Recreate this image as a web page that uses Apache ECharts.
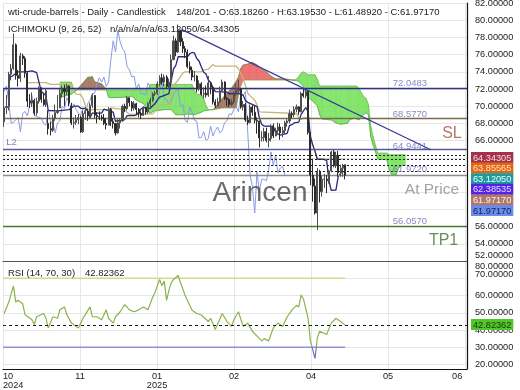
<!DOCTYPE html>
<html>
<head>
<meta charset="utf-8">
<title>wti-crude-barrels - Daily - Candlestick</title>
<script src="https://cdn.jsdelivr.net/npm/echarts@6/dist/echarts.min.js"></script>
<style>
html,body{margin:0;padding:0;background:#ffffff;}
#chart{width:520px;height:390px;}
</style>
</head>
<body>
<div id="chart"></div>
<script>
// ---------------- DATA ----------------
const opens = [
68.2,69.83,69.97,73.71,74.38,77.14,73.57,73.24,75.85,75.56,
73.83,70.58,70.39,70.67,69.22,70.56,72.09,70.77,70.19,68.0,
67.38,67.21,68.61,69.26,69.8,71.47,71.99,71.69,72.36,70.0,
68.04,68.12,68.43,68.70,67.02,69.16,69.39,68.87,70.10,71.24,
68.94,68.77,68.72,68.60,68.00,67.80,69.64,68.24,68.00,66.90,
68.07,68.29,69.99,69.72,70.99,70.41,69.78,70.28,69.61,69.16,
68.94,69.80,69.32,70.30,70.69,71.42,71.50,72.60,73.30,72.80,
73.40,72.30,72.80,75.40,77.60,76.30,78.80,77.50,76.70,76.30,
74.60,74.20,73.40,73.50,72.00,72.60,71.40,71.50,71.30,72.70,
72.20,70.50,70.10,70.50,71.80,72.80,70.90,70.80,70.20,70.50,
71.40,71.80,72.00,69.90,70.20,68.40,68.10,69.90,69.30,68.37,
68.26,66.31,66.36,67.04,66.03,66.25,67.68,66.55,67.18,67.58,
66.90,67.16,68.07,68.28,69.11,69.00,69.65,69.92,69.36,71.48,
71.20,71.71,66.95,61.99,60.70,57.58,62.35,60.07,61.50,61.53,
61.33,62.47,64.68,63.08,64.31,62.27,62.79,63.1826];
const highs = [
72.0,71.3,74.0,74.9,78.46,77.3,74.2,76.2,76.1,75.8,
74.0,71.4,71.6,70.9,71.0,72.3,72.2,71.5,72.1,69.5,
68.2,69.0,70.2,71.3,72.0,72.4,72.5,72.6,72.4,70.4,
68.7,69.0,69.1,68.9,69.5,69.9,69.7,70.4,71.5,71.3,
69.3,69.4,69.0,69.1,68.6,69.9,69.8,68.6,68.0,68.5,
68.6,70.2,70.3,71.2,71.0,70.6,70.6,70.4,69.8,69.4,
70.0,69.9,70.5,71.0,71.6,71.8,72.9,73.6,73.8,73.7,
73.6,73.2,76.0,78.2,77.9,79.5,78.9,77.9,77.0,76.6,
75.2,74.6,74.1,73.6,73.0,72.8,72.2,72.4,73.5,72.8,
72.3,70.8,71.0,72.3,73.1,72.9,71.1,70.9,70.8,71.7,
72.6,73.09,72.1,70.6,70.4,68.9,70.2,70.1,70.1,68.7,
68.3,67.1,67.5,67.5,66.9,67.9,68.0,67.5,68.1,68.0,
67.6,68.3,68.5,69.6,69.4,70.0,70.2,70.0,71.7,72.1,
72.0,71.8,67.0,63.9,61.6,62.8,62.6,61.9,62.1,62.0,
62.6,64.8,64.9,64.7,64.8,63.2,63.3,63.1953];
const lows = [
67.6,69.1,69.5,73.0,74.2,73.1,72.3,72.8,74.8,73.3,
69.9,69.8,69.9,68.9,68.9,70.3,70.4,70.0,69.9,66.7,
66.6,67.0,68.3,69.1,69.8,71.0,70.0,71.3,70.0,67.8,
67.4,67.8,67.9,66.9,66.9,68.4,68.3,68.5,69.8,68.6,
68.0,68.4,68.3,67.8,67.3,67.8,67.7,67.4,66.6,66.8,
67.4,68.2,69.3,69.5,70.0,69.4,69.5,69.0,68.7,68.5,
68.9,69.0,69.1,69.9,70.5,71.2,71.3,72.3,72.5,72.3,
72.0,72.0,72.7,75.4,75.8,76.2,77.0,76.2,75.6,74.4,
73.8,73.0,72.9,71.6,71.8,71.2,70.9,71.0,71.1,71.4,
70.2,69.8,69.9,70.4,71.7,70.7,70.0,69.9,70.0,70.3,
71.2,71.4,69.7,69.5,68.2,67.8,68.0,68.9,68.0,66.8,
65.2,65.9,65.9,65.8,65.2,65.9,66.3,66.5,66.9,66.1,
66.4,66.8,67.6,68.0,68.6,68.7,69.3,69.0,69.3,71.0,
70.9,66.7,60.8,58.9,57.4,55.6,58.8,59.5,60.5,59.9,
61.0,62.3,62.9,62.8,61.8,61.8,61.8,61.4892];
const closes = [
69.83,69.97,73.71,74.38,77.14,73.57,73.24,75.85,75.56,73.83,
70.58,70.39,70.67,69.22,70.56,72.09,70.77,70.19,71.78,67.38,
67.21,68.61,69.26,69.49,71.47,71.99,71.69,72.36,70.38,68.04,
68.12,68.43,68.70,67.02,69.16,69.39,68.87,70.10,71.24,68.94,
68.77,68.72,68.60,68.00,67.80,69.64,68.24,68.00,66.90,68.07,
68.29,69.99,69.72,70.99,70.41,69.78,70.28,69.61,69.16,68.94,
69.80,69.32,70.30,70.69,71.42,71.50,72.60,73.30,72.80,73.40,
72.30,72.80,75.40,77.60,76.30,78.80,77.50,76.70,76.30,74.60,
74.20,73.40,73.50,72.00,72.60,71.40,71.50,71.30,72.70,72.20,
70.50,70.10,70.50,71.80,72.80,70.90,70.80,70.20,70.50,71.40,
71.80,72.00,69.90,70.20,68.40,68.10,69.90,69.30,68.37,68.26,
66.31,66.36,67.04,66.03,66.25,67.68,66.55,67.18,67.58,66.90,
67.16,68.07,68.28,69.11,69.00,69.65,69.92,69.36,71.48,71.20,
71.71,66.95,61.99,60.70,57.58,62.35,60.07,61.50,61.53,61.33,
62.47,64.68,63.08,64.31,62.27,62.79,63.02,61.9717];

// Ichimoku lines (bar index, value)
const tenkanBars = [3,6,9,12,14,16,17,18,19,23, 26,28,30,32,33,35,36,37,38,42, 43,46,47,48,52,53,56,57,58,59,
  60,63,64,65,66,67,68,71,72,73, 74,75,79,80,81,82,83,84,85,86, 87,88,89,90,91,96,97,101,102,103,
  104,105,109,110,111,112,116,117,118,119, 122,123,124,125,127,128,129,130,131,132, 133,134,135,137,138,139,140,141,142,143,
  144,145,146,147];
const tenkanVals = [73.4,74.0,74.0,74.1,73.9,71.7,71.5,71.2,69.5,69.45, 69.55,69.6,70.0,70.0,69.75,69.75,69.45,68.65,69.2,69.2,
  69.65,69.4,69.3,68.25,68.45,68.9,68.9,69.0,69.3,69.7, 69.85,69.75,70.05,70.3,70.7,71.05,71.15,71.45,72.95,74.35,
  74.75,75.75,75.75,76.1,76.25,76.2,75.55,75.25,74.55,73.95, 73.75,73.05,72.75,72.15,71.7,71.65,71.45,71.5,71.4,71.3,
  70.65,70.45,69.95,68.65,67.9,67.7,67.65,66.95,66.75,66.65, 66.85,67.75,67.85,68.05,68.15,69.05,69.45,69.85,69.4,66.45,
  65.5,64.75,63.85,63.85,63.8,63.7,61.3,60.2,60.25,60.25, 61.85,62.2,62.4,62.385];
const kijunBars = [10,18,20,29,30,31,33,34,35,36, 45,46,52,53,54,64,66,67,68,71, 72,73,75,76,77,78,85,86,88,90,
  91,100,101,102,103,104,105,106,107,108, 109,110,126,127,128,129,131,132,133,134, 135,147];
const kijunVals = [72.73,72.73,72.53,72.53,71.8,71.4,71.35,70.9,70.05,69.6, 69.6,69.8,69.6,69.3,69.05,69.1,69.75,70.1,70.2,70.2,
  71.3,72.4,73.05,73.45,73.85,74.0,74.0,74.2,74.3,74.85, 74.65,74.65,74.35,73.8,73.25,72.4,71.5,71.2,70.95,70.7,
  70.15,69.35,69.15,68.65,68.45,68.65,68.65,66.45,65.5,64.75, 63.85,63.856];
const cloudBars = [24,29,30,31,34,36,38,39,42,44, 45,46,52,55,56,57,60,61,62,63, 64,69,72,74,78,79,81,82,83,85,
  86,87,88,90,92,93,94,95,97,98, 99,100,101,102,103,105,107,109,111,113, 115,117,122,125,126,127,128,129,130,131,
  133,134,135,136,137,141,143,145,148,149, 151,152,153,154,155,156,157,158,159,160, 161,164,165,166,167,168,169,170,171,172, 173];
const cloudA = [71.0,71.4,71.6,71.8,72.73,73.35,73.43,72.84,72.6,71.97, 71.04,70.99,71.04,71.17,70.9,70.7,70.3,69.9,69.5,69.1,
  69.4,69.6,69.6,69.0,69.0,69.1,69.05,69.0,69.1,69.3, 69.45,69.5,69.55,69.6,70.2,70.6,70.9,71.2,71.8,72.1,
  72.5,72.9,73.4,74.4,74.8,74.9,75.1,74.8,74.3,74.0, 73.5,73.2,73.15,73.0,72.95,72.9,72.6,72.3,71.5,71.0,
  70.6,70.3,70.05,69.0,68.5,68.4,68.05,67.9,68.0,68.45, 68.6,68.5,68.4,68.75,69.05,69.25,69.0,66.45,65.5,64.75,
  63.85,63.8,63.75,62.58,62.03,62.05,62.05,62.85,63.03,63.12, 63.1205];
const cloudB = [72.8,72.8,71.9,71.9,71.9,71.9,71.9,71.9,71.9,71.9, 71.9,71.9,71.9,71.9,71.9,71.9,71.9,71.9,71.9,72.53,
  72.53,72.53,72.53,72.53,72.53,72.53,72.53,71.8,71.4,71.35, 70.9,70.05,69.6,69.6,69.7,69.75,69.8,69.8,69.8,69.8,
  69.8,69.8,71.3,72.4,73.05,73.05,73.05,73.05,73.05,73.05, 73.05,73.05,73.05,73.05,73.15,73.45,73.85,74.0,73.85,73.65,
  73.65,73.65,73.15,72.35,72.35,72.35,72.35,72.35,72.35,72.35, 72.35,72.35,72.05,71.55,71.1,70.9,70.2,67.7,66.5,65.5,
  64.55,64.55,64.55,64.35,64.35,64.35,64.35,64.35,64.35,64.345, 64.34305];

// RSI (bar index, value)
const rsiBars = [0,2,4,5,6,8,9,12,13,14, 17,18,19,21,23,24,26,27,29,31, 32,34,35,37,38,40,42,44,45,47,
  48,50,52,54,56,58,60,62,64,65, 67,68,69,70,71,72,73,75,76,78, 81,83,85,88,89,91,94,96,98,99,
  101,103,105,107,109,111,112,114,116,118, 120,122,124,126,127,128,129,131,132,134, 135,136,139,141,143,145,147];
const rsiVals = [49.6,56.2,65.6,56.2,57.3,55.2,48.9,46.0,43.2,47.7, 49.6,46.8,41.2,47.7,46.8,51.7,53.4,48.9,44.0,42.1,
  41.2,46.8,48.9,53.4,47.7,47.7,46.0,51.7,46.8,44.0, 47.7,50.6,54.7,51.7,50.6,51.7,53.4,51.7,59.0,61.8,
  69.3,65.6,68.4,57.2,62.8,67.5,69.3,71.6,67.5,60.0, 51.5,49.6,48.7,44.9,46.8,40.3,49.6,44.9,42.1,45.9,
  50.6,42.1,44.0,39.3,36.5,33.7,35.0,33.7,41.2,44.0, 42.1,47.7,51.5,54.3,53.4,60.3,58.0,46.8,33.7,23.5,
  35.5,39.3,37.4,44.0,46.8,44.9,42.82];
const rsiLevels = [70, 30];
const rsiLast = 42.82362;

// levels and orders
const levelPrices = [72.0483, 68.5770, 64.9441, 56.0570];
const orderPrices = [64.34305, 63.85565, 63.12050, 62.38535, 61.97170];
const lastPrice = 61.97170;
const trendBars = [77.1, 184.4];
const trendVals = [78.9, 64.94];

const xTickLabels = ['10\n2024', '11', '01\n2025', '02', '04', '05', '06'];
const tagTexts = ['64.34305', '63.85565', '63.12050', '62.38535', '61.97170', '61.97170'];

// ---------------- CHART ----------------
const FONT = '"Liberation Sans", Arial, Helvetica, sans-serif';
const X_INT = 33.2;
const xc = b => b + 0.5;

const chart = echarts.init(document.getElementById('chart'), null, {renderer: 'canvas', width: 520, height: 390});

function xLabel(v) {
  const k = Math.round(v / X_INT);
  if (Math.abs(v - k * X_INT) > 0.05 || k >= xTickLabels.length) return '';
  if (k === xTickLabels.length - 1) return '{r|' + xTickLabels[k] + '}';
  return xTickLabels[k];
}

const levelStyles = [
  {color: '#30308a', width: 1.4},
  {color: '#7b6b4b', width: 1.4},
  {color: '#57579e', width: 1.4},
  {color: '#4a7a2c', width: 1.4}
];
const markLineData = [];
levelPrices.forEach((p, i) => markLineData.push({yAxis: p, lineStyle: Object.assign({type: 'solid'}, levelStyles[i])}));
orderPrices.forEach(p => markLineData.push({yAxis: p, lineStyle: {color: '#1e1e1e', width: 1, type: [2, 2]}}));
markLineData.push({yAxis: lastPrice, lineStyle: {color: '#8d8d8d', width: 1.4, type: 'solid'}});

// annotation label placement (axis coordinates)
const annotations = [
  {x: 175.4, y: 72.65, text: '72.0483', color: '#6b6bb6', size: 9.5},
  {x: 175.4, y: 69.07, text: '68.5770', color: '#6b6bb6', size: 9.5},
  {x: 175.4, y: 65.35, text: '64.9441', color: '#6b6bb6', size: 9.5},
  {x: 175.4, y: 62.62, text: '61.9720', color: '#6b6bb6', size: 9.5},
  {x: 175.4, y: 56.57, text: '56.0570', color: '#6b6bb6', size: 9.5},
  {x: 3.7, y: 65.76, text: 'L2', color: '#7a5aa6', size: 9.5},
  {x: 193.5, y: 66.86, text: 'SL', color: '#a5523f', size: 16},
  {x: 184.9, y: 60.3, text: 'At Price', color: '#8c8c8c', size: 15.5},
  {x: 189.9, y: 54.36, text: 'TP1', color: '#44732a', size: 16}
];

const tagStyles = [
  {bg: '#a5304b', fg: '#f7dbe2'},
  {bg: '#e2660f', fg: '#fde6d0'},
  {bg: '#1d9c9c', fg: '#ebffff'},
  {bg: '#5523e6', fg: '#e6deff'},
  {bg: '#b0786a', fg: '#fcefe9'},
  {bg: '#6b8ce6', fg: '#0f1f5f'}
];
const tagTops = [152, 162.6, 173.2, 183.8, 194.4, 205];

function txt(x, y, text, style) {
  return {type: 'text', x: x, y: y, z: 50, silent: true,
    style: Object.assign({text: text, fill: '#222', fontSize: 9.5, fontFamily: FONT, verticalAlign: 'middle', align: 'left'}, style || {})};
}
const graphics = [
  txt(8, 12.5, 'wti-crude-barrels - Daily - Candlestick'),
  txt(176, 12.5, '148/201 - O:63.18260 - H:63.19530 - L:61.48920 - C:61.97170'),
  txt(8, 29.5, 'ICHIMOKU (9, 26, 52)'),
  txt(110, 29.5, 'n/a/n/a/n/a/63.12050/64.34305'),
  txt(8, 273, 'RSI (14, 70, 30)'),
  txt(85, 273, '42.82362'),
  txt(475, 266, '80.00000', {fontSize: 9.2}),
  txt(475, 274, '70.00000', {fontSize: 9.2}),
  {type: 'text', x: 260, y: 193, z: 40, silent: true,
   style: {text: 'Arincen', fill: '#5a5a5a', fontSize: 28, fontFamily: FONT, align: 'center', verticalAlign: 'middle', opacity: 0.9}}
];
tagTexts.forEach((t, i) => {
  graphics.push({type: 'text', x: 471, y: tagTops[i], z: 100, silent: true,
    style: {text: t, fill: tagStyles[i].fg, backgroundColor: tagStyles[i].bg, padding: [1, 2, 0, 2],
      fontSize: 9.2, lineHeight: 10, fontFamily: FONT, verticalAlign: 'top', align: 'left'}});
});
graphics.push({type: 'text', x: 471, y: 319, z: 100, silent: true,
  style: {text: '42.82362', fill: '#123a00', backgroundColor: '#52c52c', padding: [1, 2, 0, 2],
    fontSize: 9.2, lineHeight: 10, fontFamily: FONT, verticalAlign: 'top', align: 'left'}});

const axisLabelBase = {fontSize: 9.2, color: '#222', fontFamily: FONT};
const splitLineStyle = {show: true, lineStyle: {color: '#e6e6e6', width: 1}};
const richBase = {fontSize: 9.2, color: '#222', fontFamily: FONT};

const option = {
  animation: false,
  backgroundColor: '#ffffff',
  textStyle: {fontFamily: FONT},
  grid: [
    {left: 3, right: 53, top: 3, height: 258, containLabel: false, outerBoundsMode: 'none'},
    {left: 3, right: 53, top: 261, height: 108, containLabel: false, outerBoundsMode: 'none'}
  ],
  xAxis: [
    {gridIndex: 0, type: 'value', min: 0, max: 200, interval: X_INT,
     axisLine: {show: true, onZero: false, lineStyle: {color: '#555', width: 1}},
     axisTick: {show: false}, axisLabel: {show: false}, splitLine: splitLineStyle},
    {gridIndex: 1, type: 'value', min: 0, max: 200, interval: X_INT,
     axisLine: {show: true, onZero: false, lineStyle: {color: '#111', width: 1.2}},
     axisTick: {show: false}, splitLine: splitLineStyle,
     axisLabel: Object.assign({}, axisLabelBase, {show: true, margin: 3, lineHeight: 9, hideOverlap: false,
       showMinLabel: true, showMaxLabel: true, alignMinLabel: 'left', formatter: xLabel,
       rich: {r: Object.assign({padding: [0, 16, 0, 0]}, richBase)}})}
  ],
  yAxis: [
    {gridIndex: 0, type: 'value', position: 'right', min: 52, max: 82, interval: 2,
     axisLine: {show: true, onZero: false, lineStyle: {color: '#111', width: 1.2}},
     axisTick: {show: false}, splitLine: splitLineStyle,
     axisLabel: Object.assign({}, axisLabelBase, {margin: 8,
       formatter: v => v === 52 ? '{u|' + v.toFixed(5) + '}' : v.toFixed(5),
       rich: {u: Object.assign({padding: [0, 0, 11, 0]}, richBase)}})},
    {gridIndex: 1, type: 'value', position: 'right', min: 17.4, max: 80,
     axisLine: {show: true, onZero: false, lineStyle: {color: '#111', width: 1.2}},
     axisTick: {show: false}, splitLine: splitLineStyle,
     axisLabel: Object.assign({}, axisLabelBase, {margin: 8,
       formatter: v => {
         if (Math.abs(v - Math.round(v / 10) * 10) > 1e-6 || v >= 70) return '';
         return v.toFixed(5);
       }})}
  ],
  visualMap: [{type: 'piecewise', show: false, seriesIndex: 11, dimension: 1,
    pieces: [{gte: 0, lt: 30, color: '#6b7bb6'}, {gte: 30, lte: 100, color: '#8db24c'}]}],
  graphic: graphics,
  series: [
    // 0 kumo fill
    {type: 'custom', name: 'kumo', xAxisIndex: 0, yAxisIndex: 0, z: 1, silent: true, clip: true,
     data: cloudBars.slice(0, -1).map((b, i) => [xc(b), cloudA[i], cloudB[i], xc(cloudBars[i + 1]), cloudA[i + 1], cloudB[i + 1]]),
     encode: {x: [0, 3], y: [1, 2, 4, 5]},
     renderItem: (params, api) => {
       const x0 = api.value(0), a0 = api.value(1), b0 = api.value(2);
       const x1 = api.value(3), a1 = api.value(4), b1 = api.value(5);
       const pts = [api.coord([x0, a0]), api.coord([x1, a1]), api.coord([x1, b1]), api.coord([x0, b0])];
       const aAbove = (a0 + a1) > (b0 + b1);
       let fill;
       if (!aAbove) fill = 'rgba(104,222,74,0.78)';
       else if (x0 >= 101.5) fill = 'rgba(236,96,96,0.88)';
       else fill = 'rgba(158,106,84,0.88)';
       return {type: 'polygon', shape: {points: pts}, style: {fill: fill, stroke: fill, lineWidth: 0.4}};
     }},
    // 1 senkou A
    {type: 'line', xAxisIndex: 0, yAxisIndex: 0, z: 2, silent: true, showSymbol: false,
     data: cloudBars.map((b, i) => [xc(b), cloudA[i]]), lineStyle: {color: '#3e9a3a', width: 0.8, opacity: 0.8}},
    // 2 senkou B
    {type: 'line', xAxisIndex: 0, yAxisIndex: 0, z: 2, silent: true, showSymbol: false,
     data: cloudBars.map((b, i) => [xc(b), cloudB[i]]), lineStyle: {color: '#7aa848', width: 0.8, opacity: 0.8}},
    // 3 chikou
    {type: 'line', xAxisIndex: 0, yAxisIndex: 0, z: 3, silent: true, showSymbol: false,
     data: closes.slice(26).map((c, i) => [xc(i), c]), lineStyle: {color: '#8a9be2', width: 1}},
    // 4 kijun
    {type: 'line', xAxisIndex: 0, yAxisIndex: 0, z: 3, silent: true, showSymbol: false,
     data: kijunBars.map((b, i) => [xc(b), kijunVals[i]]), lineStyle: {color: '#c6b67b', width: 1.3}},
    // 5 tenkan
    {type: 'line', xAxisIndex: 0, yAxisIndex: 0, z: 4, silent: true, showSymbol: false,
     data: tenkanBars.map((b, i) => [xc(b), tenkanVals[i]]), lineStyle: {color: '#28287f', width: 1.3}},
    // 6 candles + levels
    {type: 'candlestick', xAxisIndex: 0, yAxisIndex: 0, z: 5, barWidth: 1.6,
     data: closes.map((c, i) => [xc(i), opens[i], c, lows[i], highs[i]]),
     itemStyle: {color: '#4f4f4f', color0: '#2c2c2c', borderColor: '#4f4f4f', borderColor0: '#2c2c2c', borderWidth: 1},
     markLine: {silent: true, symbol: ['none', 'none'], label: {show: false}, animation: false, data: markLineData}},
    // 7 trend line
    {type: 'line', xAxisIndex: 0, yAxisIndex: 0, z: 6, silent: true, showSymbol: false,
     data: trendBars.map((b, i) => [b, trendVals[i]]), lineStyle: {color: '#37379c', width: 1.2}},
    // 8 annotation texts
    {type: 'scatter', xAxisIndex: 0, yAxisIndex: 0, z: 7, silent: true, symbolSize: 1,
     itemStyle: {color: 'rgba(0,0,0,0)'},
     data: annotations.map(a => ({value: [a.x, a.y],
       label: {show: true, position: 'inside', formatter: a.text, color: a.color, fontSize: a.size, fontFamily: FONT}}))},
    // 9 RSI 70
    {type: 'line', xAxisIndex: 1, yAxisIndex: 1, z: 2, silent: true, showSymbol: false,
     data: [[0, rsiLevels[0]], [xc(147), rsiLevels[0]]], lineStyle: {color: '#d8d88c', width: 1.5}},
    // 10 RSI 30
    {type: 'line', xAxisIndex: 1, yAxisIndex: 1, z: 2, silent: true, showSymbol: false,
     data: [[0, rsiLevels[1]], [xc(147), rsiLevels[1]]], lineStyle: {color: '#9090d4', width: 1.5}},
    // 11 RSI
    {type: 'line', xAxisIndex: 1, yAxisIndex: 1, z: 4, silent: true, showSymbol: false,
     data: rsiBars.map((b, i) => [xc(b), rsiVals[i]]), lineStyle: {width: 1.2},
     markLine: {silent: true, symbol: ['none', 'none'], label: {show: false}, animation: false,
       data: [{yAxis: rsiLast, lineStyle: {color: '#1a1a1a', width: 1, type: [3, 3]}}]}}
  ]
};
chart.setOption(option);
</script>
</body>
</html>
